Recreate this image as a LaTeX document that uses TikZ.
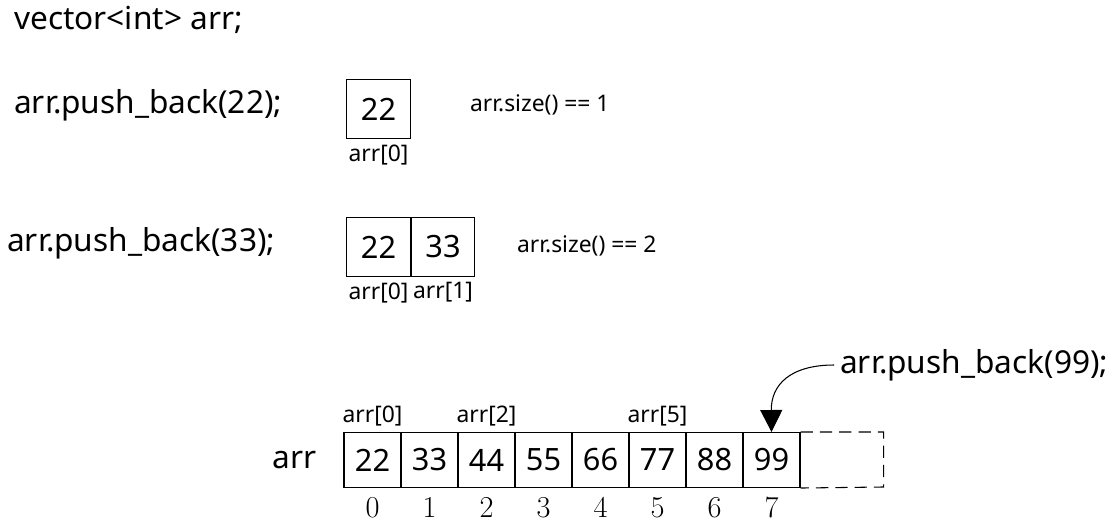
\documentclass[tikz,border=0pt]{standalone}
\usepackage{fontspec}
\setmainfont{Noto Sans}
\usetikzlibrary{arrows.meta, positioning}

\tikzset{
  big/.style={font=\fontsize{18}{21}\selectfont},
  small/.style={font=\fontsize{13}{16}\selectfont, inner sep=1pt},
  cell/.style={draw, line width=0.6pt, inner sep=0pt, minimum width=1.14cm, minimum height=1.1cm, font=\fontsize{17.5}{20}\selectfont},
  wcell/.style={cell, minimum width=1.27cm, minimum height=1.18cm},
  idx/.style={font=\fontsize{18}{20}\selectfont}
}

\begin{document}
\begin{tikzpicture}[x=0.02cm, y=-0.02cm, >={Triangle[length=0.44cm, width=0.44cm]}]
  \useasboundingbox (0,0) rectangle (1114,531);

  % code lines
  \node [big, anchor=west] (decl) at (8,20) {vector<int> arr;};
  \node [big, anchor=west] (push1) at (8,105) {arr.push\_back(22);};
  \node [big, anchor=west] (push2) at (1,243) {arr.push\_back(33);};

  % after first push_back
  \node [wcell] (one) at (378.5,109) {22};
  \node [small, below=2pt of one] (one0) {arr[0]};
  \node [small, anchor=west] (size1) at (468,105) {arr.size() == 1};

  % after second push_back
  \node [wcell] (twoa) at (378.5,247) {22};
  \node [wcell, right=0pt of twoa] (twob) {33};
  \node [small, below=2pt of twoa] (twoa0) {arr[0]};
  \node [small, below=2pt of twob] (twob1) {arr[1]};
  \node [small, anchor=west] (size2) at (515,246) {arr.size() == 2};

  % full array
  \foreach \v [count=\i from 0] in {22,33,44,55,66,77,88,99} {
    \node [cell] (c\i) at ({372.5+57*\i},460) {\v};
    \node [idx, below=2pt of c\i] (n\i) {$\i$};
  }
  \draw [line width=0.6pt, dash pattern=on 7pt off 4pt] (c7.north east) -- ++(83,0) -- ++(0,55) -- (c7.south east);
  \node [big, left=12pt of c0] (arr) {arr};
  \node [small, above=2pt of c0] (a0) {arr[0]};
  \node [small, above=2pt of c2] (a2) {arr[2]};
  \node [small, above=2pt of c5] (a5) {arr[5]};

  \node [big, anchor=west] (push3) at (834,365) {arr.push\_back(99);};
  \draw [->, line width=0.6pt] (push3.west) .. controls (790,365) and (771,385) .. (c7.north);
\end{tikzpicture}
\end{document}
